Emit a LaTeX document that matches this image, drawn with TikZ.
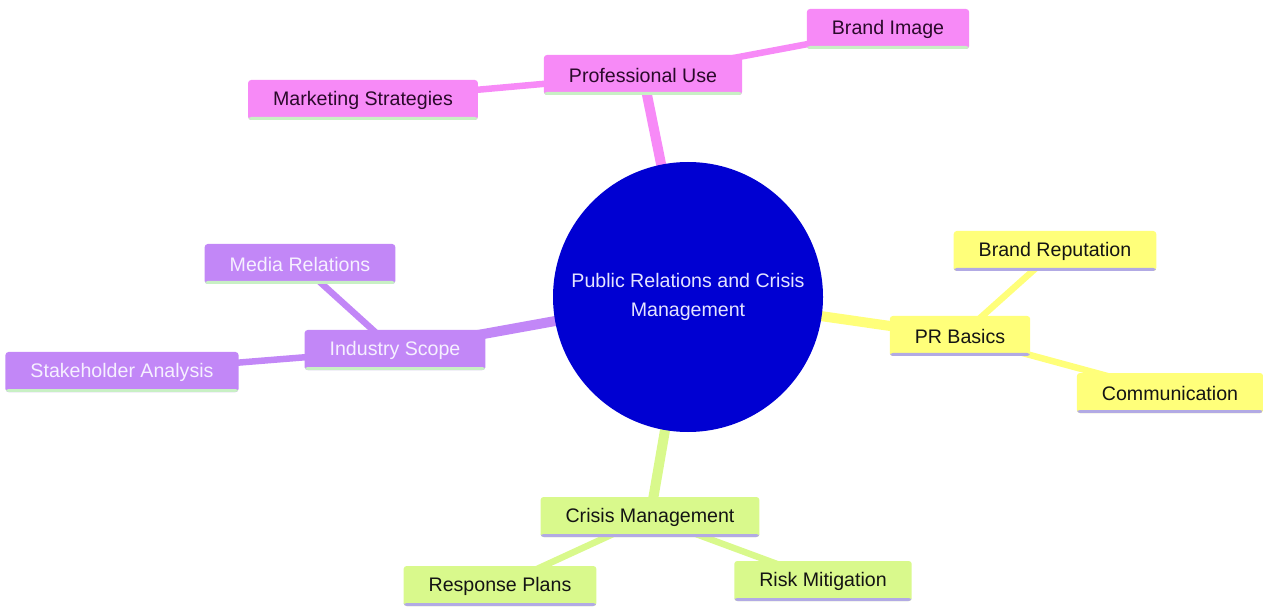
\documentclass[tikz,border=0pt]{standalone}
\usepackage{fontspec}
\setmainfont{Liberation Sans}
\usetikzlibrary{backgrounds}
\definecolor{pinkF}{HTML}{F78AF7}
\definecolor{purpleF}{HTML}{C287F7}
\definecolor{yellowF}{HTML}{FFFF7A}
\definecolor{greenF}{HTML}{D9F98C}
\definecolor{ulGreen}{HTML}{C8F0C4}
\definecolor{ulLav}{HTML}{B2AAE4}
\definecolor{centerBlue}{HTML}{0000D2}
\definecolor{centerText}{HTML}{E4E4FF}
\definecolor{pinkText}{HTML}{2A0A2A}
\definecolor{purpleText}{HTML}{F6F0FF}
\definecolor{darkText}{HTML}{141414}
\tikzset{
  mm/.style={rectangle, rounded corners=3pt, minimum height=40pt, inner xsep=25pt, inner ysep=0pt,
    font=\fontsize{19.6}{23}\selectfont},
  ulgreen/.style={path picture={\fill[ulGreen] ([yshift=3pt]path picture bounding box.south west) rectangle (path picture bounding box.south east);}},
  ullav/.style={path picture={\fill[ulLav] ([yshift=3pt]path picture bounding box.south west) rectangle (path picture bounding box.south east);}},
  pinknode/.style={mm, fill=pinkF, text=pinkText, ulgreen},
  purplenode/.style={mm, fill=purpleF, text=purpleText, ulgreen},
  yellownode/.style={mm, fill=yellowF, text=darkText, ullav},
  greennode/.style={mm, fill=greenF, text=darkText, ullav},
  centre/.style={circle, fill=centerBlue, minimum size=270pt, inner sep=0pt, text=centerText,
    align=center, font=\fontsize{19.6}{29}\selectfont},
  lvlone/.style={line width=10pt},
  lvltwo/.style={line width=6.5pt},
}
\begin{document}
\begin{tikzpicture}[x=1pt,y=-1pt]
\useasboundingbox (0,0) rectangle (1263,609);
\node[centre] (c) at (688,297) {Public Relations and Crisis\\Management};
% Professional Use branch
\node[pinknode] (pu) at (643,75) {Professional Use};
\node[pinknode] (bi) at (888,29) {Brand Image};
\node[pinknode] (ms) at (363,100) {Marketing Strategies};
% Industry Scope branch
\node[purplenode] (is) at (395,350) {Industry Scope};
\node[purplenode] (mr) at (300,264) {Media Relations};
\node[purplenode] (sa) at (122,372) {Stakeholder Analysis};
% PR Basics branch
\node[yellownode] (pr) at (960,336) {PR Basics};
\node[yellownode] (br) at (1055,251) {Brand Reputation};
\node[yellownode] (co) at (1170,393) {Communication};
% Crisis Management branch
\node[greennode] (cm) at (650,517) {Crisis Management};
\node[greennode] (rp) at (500,586) {Response Plans};
\node[greennode] (rm) at (823,581) {Risk Mitigation};
\begin{scope}[on background layer]
  \draw[lvlone, pinkF] (c.center) -- (pu.center);
  \draw[lvltwo, pinkF] (pu.center) -- (bi.center);
  \draw[lvltwo, pinkF] (pu.center) -- (ms.center);
  \draw[lvlone, purpleF] (c.center) -- (is.center);
  \draw[lvltwo, purpleF] (is.center) -- (mr.center);
  \draw[lvltwo, purpleF] (is.center) -- (sa.center);
  \draw[lvlone, yellowF] (c.center) -- (pr.center);
  \draw[lvltwo, yellowF] (pr.center) -- (br.center);
  \draw[lvltwo, yellowF] (pr.center) -- (co.center);
  \draw[lvlone, greenF] (c.center) -- (cm.center);
  \draw[lvltwo, greenF] (cm.center) -- (rp.center);
  \draw[lvltwo, greenF] (cm.center) -- (rm.center);
\end{scope}
\end{tikzpicture}
\end{document}
